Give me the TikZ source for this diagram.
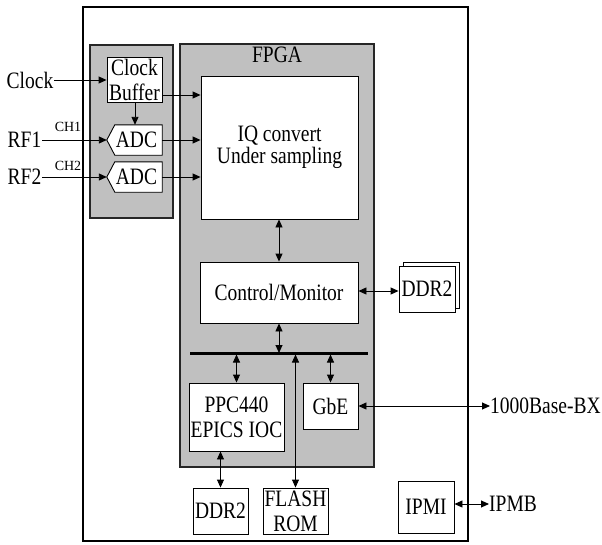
\documentclass[tikz,border=0pt]{standalone}
\usepackage{fontspec}
\setmainfont{Liberation Serif}[FakeStretch=0.83]
\newfontfamily\chfont{Liberation Serif}
\usetikzlibrary{arrows.meta}
\definecolor{boxgray}{RGB}{192,192,192}
\tikzset{
  every node/.style={font=\fontsize{23.5}{23}\selectfont},
  box/.style={draw=black, line width=0.9pt, fill=white, inner sep=1pt, align=center},
  graybox/.style={draw=black!85, line width=1.3pt, fill=boxgray},
  lbl/.style={inner sep=0.5pt},
  small/.style={inner sep=0pt, font=\chfont\fontsize{14}{16}\selectfont},
  arr/.style={line width=0.9pt, -{Triangle[length=8pt,width=7pt]}},
  darr/.style={line width=0.9pt, {Triangle[length=8pt,width=7pt]}-{Triangle[length=8pt,width=7pt]}},
}
\begin{document}
\begin{tikzpicture}[x=1pt,y=-1pt]
\useasboundingbox (0,0) rectangle (602,544);
% outer board
\node[draw=black, line width=1.6pt, minimum width=385pt, minimum height=534pt, inner sep=0pt] (board) at (275.5,274) {};
% ADC area
\node[graybox, minimum width=83pt, minimum height=173pt, inner sep=0pt] (adcarea) at (131.5,131.5) {};
% FPGA
\node[graybox, minimum width=194pt, minimum height=423pt, inner sep=0pt] (fpga) at (277,255.5) {};
\node[inner sep=0pt] (fpgalbl) at (277,55) {FPGA};
% boxes inside FPGA
\node[box, minimum width=157pt, minimum height=143pt, font=\fontsize{23.5}{22}\selectfont] (iq) at (279.5,147.5) {IQ convert\\Under sampling};
\node[box, minimum width=158pt, minimum height=61pt] (ctrl) at (279,292.5) {Control/Monitor};
\node[box, minimum width=95pt, minimum height=68pt, font=\fontsize{23.5}{25}\selectfont] (ppc) at (236.5,417) {PPC440\\EPICS IOC};
\node[box, minimum width=55pt, minimum height=46pt] (gbe) at (330.5,406) {GbE};
% bus
\coordinate (busL) at (190,353);
\coordinate (busR) at (368,353);
\draw[line width=3pt] (busL) -- (busR);
% bottom parts
\node[box, minimum width=55pt, minimum height=46pt, inner sep=0pt] (ddrb) at (220.5,511) {DDR2};
\node[box, minimum width=65pt, minimum height=46pt, inner sep=0pt, font=\fontsize{23.5}{25}\selectfont] (flash) at (295.5,511) {FLASH\\ROM};
\node[box, minimum width=56pt, minimum height=52pt] (ipmi) at (426,507) {IPMI};
% stacked DDR2
\node[box, minimum width=56pt, minimum height=46pt] (ddrback) at (431,285) {};
\node[box, minimum width=56pt, minimum height=46pt, inner sep=0pt] (ddrf) at (427,289) {DDR2};
% clock buffer
\node[box, minimum width=55pt, minimum height=45pt, inner sep=0pt, font=\fontsize{23.5}{25}\selectfont] (cb) at (134.5,79.5) {Clock\\Buffer};
% ADCs
\node[minimum width=47pt, minimum height=30pt, inner sep=0pt] (adc1) at (138.5,140) {};
\coordinate (adc1tip) at ([xshift=-8pt]adc1.west);
\draw[line width=0.9pt, fill=white] (adc1.north west) -- (adc1.north east) -- (adc1.south east) -- (adc1.south west) -- (adc1tip) -- cycle;
\node[inner sep=0pt] at (136.5,140) {ADC};
\node[minimum width=47pt, minimum height=30pt, inner sep=0pt] (adc2) at (138.5,177) {};
\coordinate (adc2tip) at ([xshift=-8pt]adc2.west);
\draw[line width=0.9pt, fill=white] (adc2.north west) -- (adc2.north east) -- (adc2.south east) -- (adc2.south west) -- (adc2tip) -- cycle;
\node[inner sep=0pt] at (136.5,177) {ADC};
% external labels
\node[lbl, anchor=east] (clk) at (54,80) {Clock};
\node[lbl, anchor=east] (rf1) at (42,140) {RF1};
\node[lbl, anchor=east] (rf2) at (42,177) {RF2};
\node[small] (ch1) at (68,127) {CH1};
\node[small] (ch2) at (68,166) {CH2};
\node[inner sep=0pt, anchor=west] (eth) at (490,406) {1000Base-BX};
\node[inner sep=0pt, anchor=west] (ipmb) at (489,504) {IPMB};
% connectors
\draw[arr] (clk.east) -- (cb.west |- clk.east);
\draw[arr] (cb.east |- 0,95) -- (iq.west |- 0,95);
\draw[arr] (cb.south -| 135,0) -- (adc1.north -| 135,0);
\draw[arr] (rf1.east) -- (adc1tip);
\draw[arr] (rf2.east) -- (adc2tip);
\draw[arr] (adc1.east) -- (iq.west |- adc1.east);
\draw[arr] (adc2.east) -- (iq.west |- adc2.east);
\draw[darr] (ctrl.north |- iq.south) -- (ctrl.north);
\draw[darr] (ctrl.south) -- (ctrl.south |- busL);
\draw[darr] (ppc.north |- 0,354.5) -- (ppc.north);
\draw[darr] (flash.north |- 0,354.5) -- (flash.north);
\draw[darr] (gbe.north |- 0,354.5) -- (gbe.north);
\draw[darr] (ctrl.east |- 0,291) -- (ddrf.west |- 0,291);
\draw[darr] (ddrb.north |- ppc.south) -- (ddrb.north);
\draw[darr] (gbe.east) -- (eth.west);
\draw[darr] (ipmi.east |- 0,504) -- (ipmb.west |- 0,504);
\end{tikzpicture}
\end{document}
